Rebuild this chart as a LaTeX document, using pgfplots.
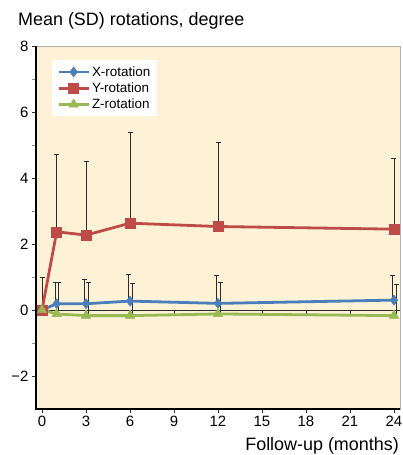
\documentclass[border=0pt]{standalone}
\usepackage{pgfplots}
\pgfplotsset{compat=1.18}
\usepackage{fontspec}
\setmainfont{Liberation Sans}
\definecolor{xblue}{HTML}{4A7EBB}
\definecolor{yred}{HTML}{BE4B48}
\definecolor{zgreen}{HTML}{98B954}
\definecolor{plotbg}{HTML}{FDF2D5}
\definecolor{errgray}{HTML}{2B2B2B}

\begin{document}
\begin{tikzpicture}
\begin{axis}[
  name=ax,
  scale only axis,
  width=364bp, height=363bp,
  xmin=-0.41, xmax=24.41,
  ymin=-3, ymax=8,
  axis background/.style={fill=plotbg},
  axis line style={draw=black!30, line width=0.8bp},
  xtick={0,3,...,24},
  ytick={-2,0,2,4,6,8},
  yticklabels={−2,0,2,4,6,8},
  minor y tick num=1,
  xtick pos=bottom, ytick pos=left,
  tick align=outside,
  major tick length=4bp, minor tick length=4bp,
  major tick style={black!80, line width=0.8bp},
  minor y tick style={black!45, line width=0.8bp},
  tick label style={font=\fontsize{15}{17}\selectfont},
  /pgf/number format/assume math mode=true,
  legend style={at={(0.044,0.961)}, anchor=north west, draw=none, fill=white,
    font=\fontsize{13.5}{15}\selectfont, inner xsep=5bp, inner ysep=4bp,
    row sep=1bp},
  legend cell align=left,
  legend image code/.code={\draw[mark repeat=2, mark phase=2, #1]
    plot coordinates {(0bp,0bp) (15bp,0bp) (30bp,0bp)};},
  sdbars/.style={draw=none, forget plot, error bars/.cd, y dir=plus, y explicit,
    error mark=-,
    error bar style={errgray, line width=0.8bp},
    error mark options={rotate=90, errgray, line width=0.8bp, mark size=2.5bp}},
]
  % zero line with its own ticks
  \draw[errgray, line width=0.9bp] (axis cs:-0.41,0) -- (axis cs:24.41,0);
  \pgfplotsinvokeforeach{0,3,6,9,12,15,18,21,24}{\draw[errgray, line width=0.8bp] (axis cs:#1,0) -- ([yshift=-4bp]axis cs:#1,0);}

  % SD bars (upper side only)
  \addplot[sdbars]
    coordinates {(0,0) +- (0,1.0) (1,2.37) +- (0,2.33) (3,2.27) +- (0,2.23)
      (6,2.63) +- (0,2.75) (12,2.53) +- (0,2.55) (24,2.45) +- (0,2.13)};
  \addplot[sdbars]
    coordinates {(0.9,0.19) +- (0,0.66) (2.9,0.19) +- (0,0.74) (5.9,0.27) +- (0,0.8)
      (11.9,0.2) +- (0,0.85) (23.9,0.3) +- (0,0.75)};
  \addplot[sdbars]
    coordinates {(1.15,-0.12) +- (0,0.97) (3.15,-0.17) +- (0,1.0) (6.15,-0.17) +- (0,0.99)
      (12.15,-0.12) +- (0,0.96) (24.15,-0.17) +- (0,0.96)};

  \addplot[xblue, line width=2.8bp, mark=diamond*, mark size=5bp, mark options={solid, line width=0.5bp}]
    coordinates {(0,0) (1,0.19) (3,0.19) (6,0.27) (12,0.2) (24,0.3)};
  \addplot[yred, line width=2.8bp, mark=square*, mark size=5bp, mark options={solid, line width=0.5bp}]
    coordinates {(0,0) (1,2.37) (3,2.27) (6,2.63) (12,2.53) (24,2.45)};
  \addplot[zgreen, line width=2.8bp, mark=triangle*, mark size=5.5bp, mark options={solid, line width=0.5bp}]
    coordinates {(0,0) (1,-0.12) (3,-0.17) (6,-0.17) (12,-0.12) (24,-0.17)};
  \legend{X-rotation, Y-rotation, Z-rotation}
\end{axis}
\draw[black, line width=1.2bp] (ax.north west) -- (ax.south west) -- (ax.south east);
\node[anchor=base west, inner sep=0pt, font=\fontsize{18}{20}\selectfont]
  at ([shift={(-18bp,20bp)}]ax.north west) {Mean (SD) rotations, degree};
\node[anchor=base east, inner sep=0pt, font=\fontsize{18}{20}\selectfont]
  at ([shift={(-1bp,-41.5bp)}]ax.south east) {Follow-up (months)};
\pgfresetboundingbox
\path[use as bounding box] ([shift={(-36bp,-46bp)}]ax.south west) rectangle ([shift={(3bp,46bp)}]ax.north east);
\end{tikzpicture}
\end{document}
